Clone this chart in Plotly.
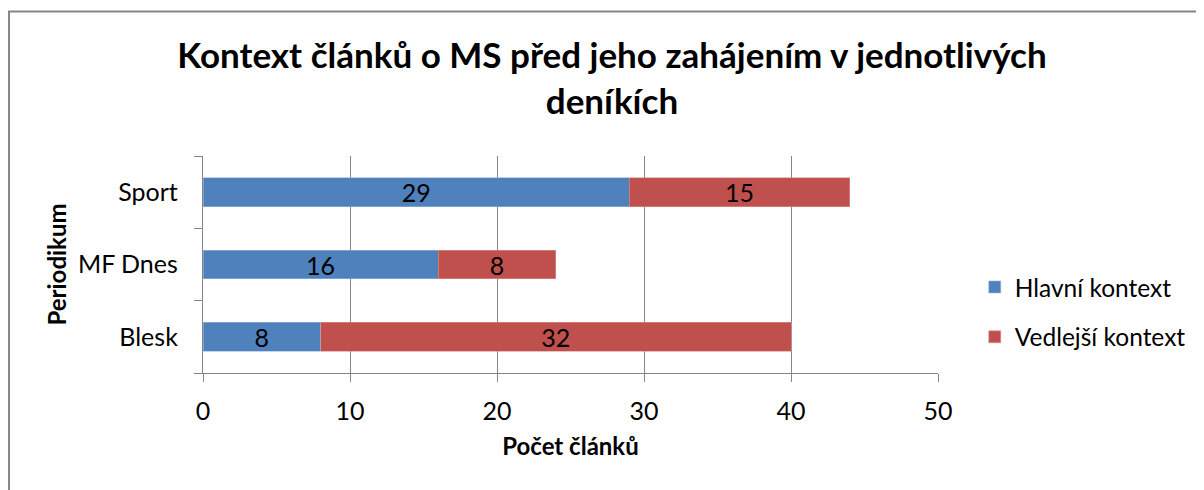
import plotly.graph_objects as go

# data
periodika = ["Blesk", "MF Dnes", "Sport"]
hlavni = [8, 16, 29]
vedlejsi = [32, 8, 15]
x_ticks = [0, 10, 20, 30, 40, 50]

COLORS = {
    "hlavni": "#4F81BD",
    "vedlejsi": "#C0504D",
    "axis": "#868686",
    "text": "#000000",
}
FONT = "Lato"
TICK_SIZE = 25

fig = go.Figure()

fig.add_trace(go.Bar(
    y=periodika,
    x=hlavni,
    orientation="h",
    name="Hlavní kontext",
    marker=dict(color=COLORS["hlavni"], line=dict(color="#9DB6D8", width=0.6)),
    text=[str(v) for v in hlavni],
    textposition="inside",
    insidetextanchor="middle",
    textangle=0,
    constraintext="none",
    textfont=dict(color=COLORS["text"], size=TICK_SIZE, family=FONT),
    legendgroup="a",
))

fig.add_trace(go.Bar(
    y=periodika,
    x=vedlejsi,
    orientation="h",
    name="Vedlejší kontext",
    marker=dict(color=COLORS["vedlejsi"], line=dict(color="#D99694", width=0.6)),
    text=[str(v) for v in vedlejsi],
    textposition="inside",
    insidetextanchor="middle",
    textangle=0,
    constraintext="none",
    textfont=dict(color=COLORS["text"], size=TICK_SIZE, family=FONT),
    legendgroup="b",
))

# page body adds an 8px offset, so the figure is 8px smaller on each side
fig.update_layout(
    barmode="stack",
    bargap=0.6,
    width=1196,
    height=482,
    paper_bgcolor="white",
    plot_bgcolor="white",
    margin=dict(l=195, r=266, t=148, b=117, autoexpand=False),
    font=dict(family=FONT, color=COLORS["text"], size=TICK_SIZE),
    title=dict(
        text="<b>Kontext článků o MS před jeho zahájením v jednotlivých<br>deníkích</b>",
        font=dict(family=FONT, size=35, color=COLORS["text"]),
        x=0.505,
        xanchor="center",
        y=0.8755,
        yanchor="middle",
    ),
    legend=dict(
        x=1.05,
        y=0.281,
        xanchor="left",
        yanchor="middle",
        traceorder="grouped",
        tracegroupgap=15,
        font=dict(family=FONT, size=24.5),
        itemwidth=30,
    ),
    xaxis=dict(
        range=[0, 50],
        tickvals=x_ticks,
        automargin=False,
        showgrid=True,
        gridcolor=COLORS["axis"],
        gridwidth=1.3,
        showline=True,
        linecolor=COLORS["axis"],
        linewidth=1.3,
        ticks="outside",
        ticklen=8,
        tickcolor=COLORS["axis"],
        zeroline=False,
        tickfont=dict(family=FONT, size=TICK_SIZE),
        ticklabelstandoff=8,
        title=dict(text="<b>Počet článků</b>", font=dict(family=FONT, size=24), standoff=14),
    ),
    yaxis=dict(
        automargin=False,
        showgrid=False,
        showline=True,
        linecolor=COLORS["axis"],
        linewidth=1.3,
        ticks="outside",
        tickson="boundaries",
        ticklen=8,
        tickcolor=COLORS["axis"],
        tickfont=dict(family=FONT, size=TICK_SIZE),
        ticklabelstandoff=19,
        title=dict(text="<b>Periodikum</b>", font=dict(family=FONT, size=24), standoff=4),
    ),
)

# outer chart frame (right and bottom edges lie outside the picture)
fig.add_shape(
    type="rect", xref="paper", yref="paper",
    x0=-0.2639, x1=1.40, y0=-0.60, y1=1.666,
    line=dict(color=COLORS["axis"], width=2),
    fillcolor="rgba(0,0,0,0)",
    layer="below",
)

fig.write_html("out.html")
